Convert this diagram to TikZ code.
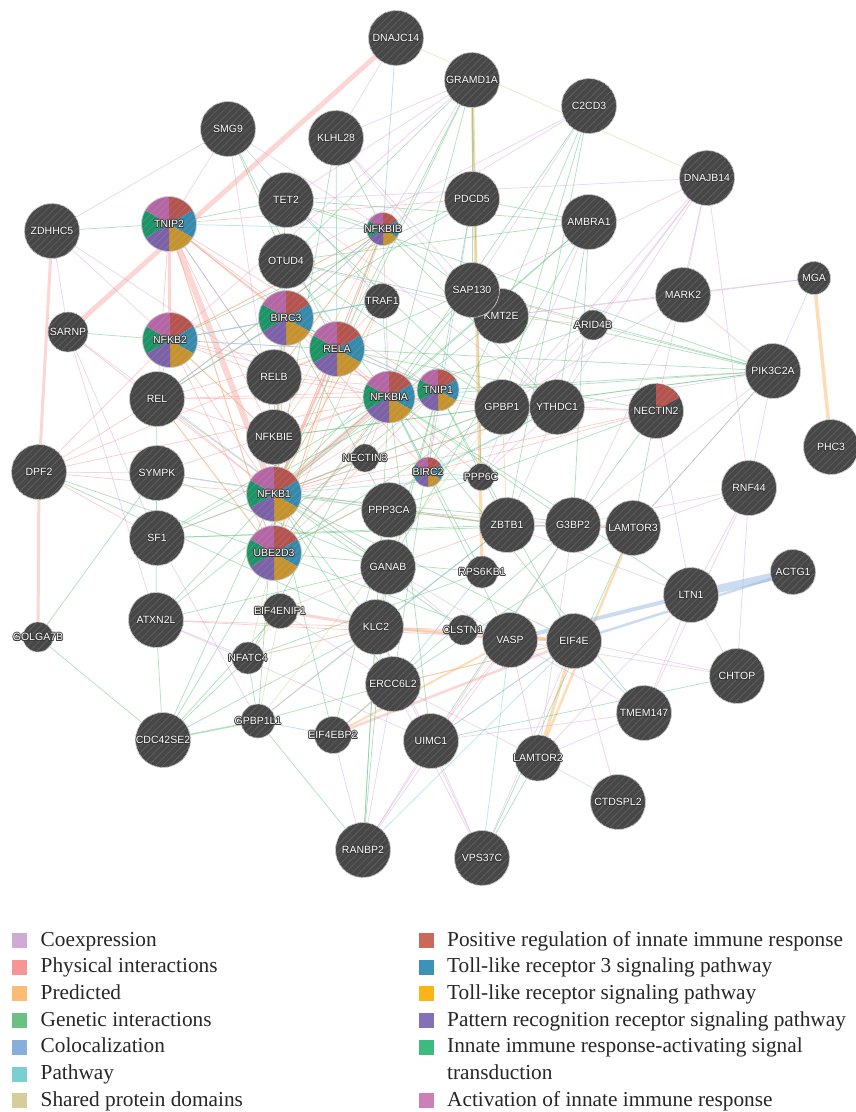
\documentclass[tikz,border=0pt]{standalone}
\usepackage{fontspec}
\setmainfont{Liberation Serif}
\newfontfamily\genefont{Liberation Sans}
\usetikzlibrary{positioning,patterns.meta}

\definecolor{nodegray}{HTML}{474747}
\definecolor{hatchgray}{HTML}{5E5E5E}
\definecolor{nodeedge}{HTML}{CACACA}
\definecolor{halo}{HTML}{383838}
% edge colours
\definecolor{eCoexp}{HTML}{D9ABDB}
\definecolor{ePhys}{HTML}{F79C9C}
\definecolor{ePred}{HTML}{FBB56A}
\definecolor{eGen}{HTML}{66C280}
\definecolor{eColoc}{HTML}{8CB2E0}
\definecolor{ePath}{HTML}{74D2D8}
\definecolor{eShared}{HTML}{D6CE92}
% legend colours
\definecolor{cCoexp}{HTML}{D0A9D5}
\definecolor{cPhys}{HTML}{F59595}
\definecolor{cPred}{HTML}{FBBC74}
\definecolor{cGen}{HTML}{6CC083}
\definecolor{cColoc}{HTML}{88AEDC}
\definecolor{cPath}{HTML}{7CCFD0}
\definecolor{cShared}{HTML}{D6CE9A}
\definecolor{lRed}{HTML}{C8695A}
\definecolor{lTeal}{HTML}{3D93B5}
\definecolor{lGold}{HTML}{FDB515}
\definecolor{lPurple}{HTML}{8470B5}
\definecolor{lGreen}{HTML}{3DBB7F}
\definecolor{lPink}{HTML}{CC80B8}
% pie slice colours
\definecolor{pRed}{HTML}{B3544F}
\definecolor{pTeal}{HTML}{3589AB}
\definecolor{pGold}{HTML}{C4922E}
\definecolor{pPurple}{HTML}{7B62A6}
\definecolor{pGreen}{HTML}{1C9466}
\definecolor{pPink}{HTML}{B366A3}

\pgfdeclarelayer{edges}
\pgfsetlayers{edges,main}

% gene label with a dark halo, zero width
\newcommand{\gsh}[3]{\raisebox{#2}{\makebox[0pt]{\hspace*{#1}#3\hspace*{-#1}}}}
\newcommand{\gl}[1]{{\color{halo}\gsh{.8pt}{0pt}{#1}\gsh{-.8pt}{0pt}{#1}\gsh{0pt}{.8pt}{#1}\gsh{0pt}{-.8pt}{#1}%
  \gsh{.6pt}{.6pt}{#1}\gsh{-.6pt}{.6pt}{#1}\gsh{.6pt}{-.6pt}{#1}\gsh{-.6pt}{-.6pt}{#1}}\gsh{0pt}{0pt}{#1}}

\tikzset{
  gene/.style={circle, draw=nodeedge, line width=0.7pt, fill=nodegray, inner sep=0pt,
               minimum size=#1, text=white, font=\genefont\fontsize{10.5}{12}\selectfont,
               postaction={pattern={Lines[angle=45,distance=5pt,line width=.8pt]}, pattern color=hatchgray}},
  gene/.default=55pt,
  piegene/.style={circle, draw=nodeedge, line width=0.7pt, inner sep=0pt,
               text=white, font=\genefont\fontsize{10.5}{12}\selectfont},
  hatch/.style={white, opacity=.1, line width=.8pt},
  edge/.style={line width=0.75pt, opacity=0.5},
  coexp/.style={edge, draw=eCoexp},
  phys/.style={edge, draw=ePhys},
  pred/.style={edge, draw=ePred},
  genetic/.style={edge, draw=eGen},
  coloc/.style={edge, draw=eColoc},
  pathw/.style={edge, draw=ePath},
  shared/.style={edge, draw=eShared},
  legbox/.style={rectangle, inner sep=0pt, minimum size=15pt},
  legtext/.style={inner sep=0pt, anchor=base west, font=\fontsize{21.3}{25}\selectfont, text=black!85},
}

% hatching lines inside a circle: position, radius in pt
\newcommand{\hatchcircle}[2]{%
  \begin{scope}
    \clip (#1) circle[radius=#2pt];
    \foreach \k in {-6,...,6}
      \draw[hatch] ([shift={(\k*3.54pt,-\k*3.54pt)}]#1) ++(-30pt,-30pt) -- ++(60pt,60pt);
  \end{scope}}

% pie node: name, position, radius in pt
\newcommand{\piegene}[3]{%
  \foreach \a/\c in {30/pRed,-30/pTeal,-90/pGold,-150/pPurple,150/pGreen,90/pPink}
    \fill[\c] (#2) -- ++(\a+60:#3pt) arc[start angle=\a+60, end angle=\a, radius=#3pt] -- cycle;
  \hatchcircle{#2}{#3}
  \node[piegene, minimum size=2*#3pt] (#1) at (#2) {\gl{#1}};
}

\begin{document}
\begin{tikzpicture}[x=1pt, y=-1pt]
  \useasboundingbox (0,0) rectangle (855,1112);

  % genes
  \node[gene] (DNAJC14) at (396,38) {\gl{DNAJC14}};
  \node[gene] (GRAMD1A) at (472,80) {\gl{GRAMD1A}};
  \node[gene] (C2CD3) at (589,106) {\gl{C2CD3}};
  \node[gene] (SMG9) at (228,129) {\gl{SMG9}};
  \node[gene] (KLHL28) at (336,138) {\gl{KLHL28}};
  \node[gene] (DNAJB14) at (707,178) {\gl{DNAJB14}};
  \node[gene] (TET2) at (286,200) {\gl{TET2}};
  \node[gene] (PDCD5) at (472,199) {\gl{PDCD5}};
  \node[gene] (AMBRA1) at (589,222) {\gl{AMBRA1}};
  \node[gene] (ZDHHC5) at (52,231) {\gl{ZDHHC5}};
  \node[gene] (OTUD4) at (286,261) {\gl{OTUD4}};
  \node[gene=35pt] (TRAF1) at (382,301) {\gl{TRAF1}};
  \node[gene] (KMT2E) at (501,316) {\gl{KMT2E}};
  \node[gene] (SAP130) at (472,290) {\gl{SAP130}};
  \node[gene] (MARK2) at (683,295) {\gl{MARK2}};
  \node[gene=33pt] (MGA) at (814,278) {\gl{MGA}};
  \node[gene=30pt] (ARID4B) at (593,325) {\gl{ARID4B}};
  \node[gene=40pt] (SARNP) at (68,332) {\gl{SARNP}};
  \node[gene] (PIK3C2A) at (773,371) {\gl{PIK3C2A}};
  \node[gene] (RELB) at (274,377) {\gl{RELB}};
  \node[gene] (REL) at (157,399) {\gl{REL}};
  \node[gene] (GPBP1) at (502,407) {\gl{GPBP1}};
  \node[gene] (YTHDC1) at (557,407) {\gl{YTHDC1}};
  \node[gene] (PHC3) at (831,447) {\gl{PHC3}};
  \node[gene] (NFKBIE) at (274,437) {\gl{NFKBIE}};
  \node[gene] (DPF2) at (39,472) {\gl{DPF2}};
  \node[gene] (SYMPK) at (157,473) {\gl{SYMPK}};
  \node[gene=28pt] (NECTIN3) at (365,458) {\gl{NECTIN3}};
  \node[gene=27pt] (PPP6C) at (481,477) {\gl{PPP6C}};
  \node[gene] (RNF44) at (749,488) {\gl{RNF44}};
  \node[gene] (PPP3CA) at (389,510) {\gl{PPP3CA}};
  \node[gene] (ZBTB1) at (507,525) {\gl{ZBTB1}};
  \node[gene] (G3BP2) at (573,525) {\gl{G3BP2}};
  \node[gene] (LAMTOR3) at (633,528) {\gl{LAMTOR3}};
  \node[gene] (SF1) at (157,538) {\gl{SF1}};
  \node[gene] (GANAB) at (388,567) {\gl{GANAB}};
  \node[gene=32pt] (RPS6KB1) at (482,572) {\gl{RPS6KB1}};
  \node[gene=45pt] (ACTG1) at (793,572) {\gl{ACTG1}};
  \node[gene] (LTN1) at (691,595) {\gl{LTN1}};
  \node[gene] (ATXN2L) at (156,620) {\gl{ATXN2L}};
  \node[gene=35pt] (EIF4ENIF1) at (280,611) {\gl{EIF4ENIF1}};
  \node[gene=30pt] (GOLGA7B) at (38,637) {\gl{GOLGA7B}};
  \node[gene] (KLC2) at (376,627) {\gl{KLC2}};
  \node[gene=30pt] (CLSTN1) at (463,630) {\gl{CLSTN1}};
  \node[gene] (VASP) at (510,640) {\gl{VASP}};
  \node[gene] (EIF4E) at (574,641) {\gl{EIF4E}};
  \node[gene=32pt] (NFATC4) at (248,658) {\gl{NFATC4}};
  \node[gene] (ERCC6L2) at (393,684) {\gl{ERCC6L2}};
  \node[gene] (CHTOP) at (737,676) {\gl{CHTOP}};
  \node[gene=34pt] (GPBP1L1) at (258,721) {\gl{GPBP1L1}};
  \node[gene=37pt] (EIF4EBP2) at (333,735) {\gl{EIF4EBP2}};
  \node[gene] (CDC42SE2) at (163,740) {\gl{CDC42SE2}};
  \node[gene] (TMEM147) at (644,713) {\gl{TMEM147}};
  \node[gene] (UIMC1) at (431,741) {\gl{UIMC1}};
  \node[gene=46pt] (LAMTOR2) at (538,758) {\gl{LAMTOR2}};
  \node[gene] (CTDSPL2) at (618,802) {\gl{CTDSPL2}};
  \node[gene] (RANBP2) at (363,850) {\gl{RANBP2}};
  \node[gene] (VPS37C) at (482,858) {\gl{VPS37C}};

  % genes in the innate immune functions
  \piegene{TNIP2}{169,224}{27.5}
  \piegene{NFKBIB}{383,229}{16.5}
  \piegene{BIRC3}{286,318}{27.5}
  \piegene{NFKB2}{170,340}{27.5}
  \piegene{RELA}{337,349}{27.5}
  \piegene{NFKBIA}{389,397}{26}
  \piegene{TNIP1}{438,390}{21}
  \piegene{BIRC2}{428,472}{15}
  \piegene{NFKB1}{274,494}{27.5}
  \piegene{UBE2D3}{274,553}{27.5}
  \node[gene] (NECTIN2) at (656,411) {};
  \fill[pRed] (656,411) -- ++(90:27.1pt) arc[start angle=90, end angle=30, radius=27.1pt] -- cycle;
  \begin{scope}
    \clip (656,411) -- ++(90:27.1pt) arc[start angle=90, end angle=30, radius=27.1pt] -- cycle;
    \foreach \k in {-6,...,6}
      \draw[hatch] ([shift={(\k*3.54pt,-\k*3.54pt)}]656,411) ++(-30pt,-30pt) -- ++(60pt,60pt);
  \end{scope}
  \node[piegene, draw=none] (NECTIN2t) at (NECTIN2) {\gl{NECTIN2}};

  \begin{pgfonlayer}{edges}
    % physical interactions
    \foreach \a/\b in {TNIP2/RELA, TNIP2/REL, TNIP2/NFKBIA, TNIP2/BIRC3, TNIP2/UBE2D3, TNIP2/RELB,
        TNIP2/TNIP1, TNIP2/NFKBIE, NFKB2/RELA, NFKB2/NFKBIA, NFKB2/RELB, NFKB2/BIRC3, NFKB2/NFKB1,
        NFKB2/NFKBIE, NFKB2/REL, NFKB2/NFKBIB, NFKB2/UBE2D3, NFKB2/TNIP1, REL/RELA, REL/NFKBIA,
        REL/NFKB1, REL/NFKBIB, REL/NFKBIE, REL/BIRC3, REL/UBE2D3, RELB/RELA, RELB/NFKBIA, RELB/NFKB1,
        RELB/NFKBIB, RELB/UBE2D3, BIRC3/RELA, BIRC3/TRAF1, BIRC3/NFKB1, BIRC3/UBE2D3, BIRC3/BIRC2,
        BIRC3/NFKBIB, BIRC3/TNIP1, BIRC3/NFKBIA, RELA/NFKBIA, RELA/NFKB1, RELA/NFKBIB, RELA/NFKBIE,
        RELA/TNIP1, RELA/TRAF1, RELA/UBE2D3, NFKBIA/NFKBIB, NFKBIA/TNIP1, NFKBIA/UBE2D3, NFKBIA/NFKBIE,
        NFKB1/NFKBIB, NFKB1/NFKBIE, NFKB1/UBE2D3, NFKB1/BIRC2, NFKB1/TRAF1, NFKB1/TNIP1, UBE2D3/BIRC2,
        UBE2D3/TNIP1, UBE2D3/TRAF1, TNIP1/BIRC2, NECTIN3/NFKBIA, NECTIN3/NFKB1, NECTIN2/NFKB1,
        NECTIN2/NFKBIA, NECTIN2/BIRC2, YTHDC1/NFKB1, GPBP1/NFKBIA, DPF2/NFKB1, DPF2/NFKBIA, DPF2/REL,
        DPF2/NFKB2, DPF2/RELA, SARNP/NFKB1, KLC2/CLSTN1, CLSTN1/VASP, EIF4E/ERCC6L2, KMT2E/ARID4B,
        SAP130/ARID4B, GANAB/ZBTB1, VASP/EIF4E, ATXN2L/KLC2, ATXN2L/EIF4E, PPP3CA/ZBTB1, PPP3CA/G3BP2,
        NFKBIA/PPP6C, TNIP2/PDCD5, NFKB1/GPBP1, EIF4EBP2/ERCC6L2, SYMPK/NFKBIA, SF1/NFKB1, DPF2/SF1,
        REL/TNIP1, ZBTB1/LAMTOR3, G3BP2/LAMTOR3, UIMC1/VASP, LAMTOR2/VASP, NFKB1/YTHDC1, RELB/TNIP1}
      \draw[phys] (\a) -- (\b);
    \foreach \a/\b/\w in {DNAJC14/SARNP/5, TNIP2/NFKB1/6, NFKBIA/NFKB1/5, TNIP2/NFKB2/3, ZDHHC5/DPF2/3,
        DPF2/GOLGA7B/3, EIF4ENIF1/KLC2/3, EIF4EBP2/EIF4E/2.5, KLC2/VASP/2, RELA/NFKB1/2.5}
      \draw[phys, line width=\w pt, opacity=.42] (\a) -- (\b);
    % predicted
    \foreach \a/\b in {NFKBIB/NFKB1, NFKBIB/RELB, NFKBIB/UBE2D3, NFKBIB/REL, NFKBIB/NFKB2, TNIP2/NFKBIA,
        TNIP2/UBE2D3, BIRC3/NFKBIE, REL/UBE2D3, NFKB2/NFKBIE, TRAF1/NFKB1, ERCC6L2/EIF4E, ZBTB1/LAMTOR3,
        KLC2/GANAB, NFATC4/EIF4ENIF1, GPBP1/ZBTB1, RELA/UBE2D3, NFKBIB/NFKBIE}
      \draw[pred] (\a) -- (\b);
    \foreach \a/\b/\w in {GRAMD1A/RPS6KB1/3.5, MGA/PHC3/3.5, EIF4E/LAMTOR2/3, LAMTOR3/LAMTOR2/2.5,
        KLC2/EIF4E/2.5, CLSTN1/EIF4E/2, EIF4EBP2/VASP/2}
      \draw[pred, line width=\w pt, opacity=.48] (\a) -- (\b);
    % genetic interactions
    \foreach \a/\b in {ZDHHC5/TNIP2, SARNP/NFKB2, SMG9/OTUD4, SMG9/RELA, KLHL28/NFKBIB, KLHL28/RELA,
        KLHL28/NFKB1, TET2/TNIP2, TET2/NFKBIB, TET2/GPBP1, TET2/AMBRA1, TET2/PIK3C2A, TET2/NFKB1,
        GRAMD1A/NFKBIA, GRAMD1A/RELA, GRAMD1A/PPP6C, GRAMD1A/SAP130, GRAMD1A/OTUD4, GRAMD1A/NFKB1,
        C2CD3/GPBP1, C2CD3/KMT2E, C2CD3/ZBTB1, C2CD3/NFKBIA, PDCD5/AMBRA1, PDCD5/NFKB2, PDCD5/REL,
        PDCD5/TNIP1, AMBRA1/NFKBIA, AMBRA1/YTHDC1, AMBRA1/GANAB, AMBRA1/G3BP2, AMBRA1/NFKB1,
        OTUD4/NFKBIA, OTUD4/PIK3C2A, OTUD4/GPBP1, OTUD4/AMBRA1, SAP130/NFKB1, SAP130/UBE2D3,
        SAP130/PIK3C2A, SAP130/RELA, KMT2E/NFKB1, KMT2E/BIRC2, KMT2E/NFKBIB, ARID4B/NFKBIA,
        ARID4B/PIK3C2A, PIK3C2A/TNIP1, PIK3C2A/GPBP1, PIK3C2A/NFKBIA, PIK3C2A/RELA, NECTIN2/PPP3CA,
        NECTIN2/RELA, YTHDC1/UBE2D3, YTHDC1/NFKBIB, GPBP1/SF1, GPBP1/UBE2D3, REL/ATXN2L, REL/GANAB,
        SYMPK/GANAB, SYMPK/ZBTB1, SF1/NFKBIA, SF1/ZBTB1, SF1/TNIP1, DPF2/KLC2, DPF2/UBE2D3,
        GOLGA7B/CDC42SE2, GOLGA7B/SYMPK, ATXN2L/CDC42SE2, ATXN2L/GANAB, ATXN2L/NFKB1, ATXN2L/TNIP1,
        CDC42SE2/NFATC4, CDC42SE2/UBE2D3, CDC42SE2/EIF4ENIF1, CDC42SE2/KLC2, CDC42SE2/NFKB1,
        NFATC4/GPBP1L1, NFATC4/RPS6KB1, NFATC4/NFKBIA, GPBP1L1/RANBP2, GPBP1L1/ERCC6L2, GPBP1L1/NFKB1,
        GPBP1L1/ZBTB1, EIF4EBP2/NFKB1, EIF4EBP2/PPP3CA, EIF4EBP2/G3BP2, RANBP2/GANAB, RANBP2/KLC2,
        RANBP2/NFKBIA, UIMC1/NFKBIA, UIMC1/G3BP2, ERCC6L2/NFKB1, ERCC6L2/TNIP1, ERCC6L2/LAMTOR3,
        KLC2/NFKB1, KLC2/TNIP1, GANAB/NFKB1, GANAB/TNIP1, PPP3CA/BIRC3, ZBTB1/NFKB1, ZBTB1/TNIP1,
        G3BP2/NFKBIA, G3BP2/SF1, LAMTOR3/NFKB1, LAMTOR3/PIK3C2A, LAMTOR3/NECTIN2, RPS6KB1/UBE2D3,
        RPS6KB1/NFKBIA, CLSTN1/NFKB1, VASP/NFKBIA, VASP/UBE2D3, EIF4E/TNIP1, EIF4E/NFKB1, CHTOP/UIMC1,
        VPS37C/LAMTOR3, LAMTOR2/VPS37C, TMEM147/NFKBIA, LTN1/NFKBIA, G3BP2/NECTIN2, NFKBIE/GPBP1,
        NFKBIE/PIK3C2A, OTUD4/NFKB1}
      \draw[genetic] (\a) -- (\b);
    \draw[genetic, line width=1.6pt] (CDC42SE2) -- (GPBP1L1);
    % coexpression
    \foreach \a/\b in {DNAJB14/MARK2, DNAJB14/GPBP1, DNAJB14/YTHDC1, DNAJB14/SAP130, DNAJB14/RNF44,
        DNAJB14/NECTIN2, DNAJB14/ARID4B, DNAJB14/TET2, C2CD3/OTUD4, C2CD3/NFKBIB, GRAMD1A/TET2,
        GRAMD1A/KLHL28, GRAMD1A/NFKB2, SMG9/ZDHHC5, SMG9/NFKBIB, SMG9/NFKBIE, ZDHHC5/NFKB2,
        ZDHHC5/SARNP, ZDHHC5/RELB, SARNP/SF1, SARNP/GANAB, MARK2/MGA, MARK2/GPBP1, MARK2/PIK3C2A,
        MARK2/KMT2E, MGA/PIK3C2A, MGA/KMT2E, PIK3C2A/RNF44, PIK3C2A/G3BP2, PIK3C2A/LAMTOR3,
        PIK3C2A/YTHDC1, NECTIN2/GPBP1, NECTIN2/LTN1, RNF44/LAMTOR3, RNF44/CHTOP, RNF44/LTN1,
        RNF44/TMEM147, LTN1/CHTOP, LTN1/TMEM147, LTN1/ZBTB1, CHTOP/EIF4E, TMEM147/UIMC1,
        TMEM147/LAMTOR2, TMEM147/VASP, CTDSPL2/LAMTOR2, CTDSPL2/EIF4E, VPS37C/UIMC1, VPS37C/ERCC6L2,
        VPS37C/EIF4E, VPS37C/KLC2, RANBP2/EIF4EBP2, RANBP2/UIMC1, RANBP2/ERCC6L2, RANBP2/VASP,
        RANBP2/G3BP2, UIMC1/EIF4E, UIMC1/KLC2, LAMTOR2/ERCC6L2, LAMTOR2/G3BP2, GPBP1L1/KLC2,
        NFATC4/KLC2, ATXN2L/NFATC4, ATXN2L/SARNP, ATXN2L/UIMC1, SF1/GPBP1L1, SYMPK/PPP3CA,
        KLHL28/YTHDC1, KLHL28/SAP130, TET2/YTHDC1, OTUD4/KMT2E, AMBRA1/PPP6C, ARID4B/GPBP1,
        ARID4B/ZBTB1, PPP6C/YTHDC1, GANAB/VASP, GANAB/CLSTN1, ZBTB1/G3BP2, EIF4ENIF1/GANAB,
        EIF4ENIF1/ERCC6L2, DPF2/SYMPK, SMG9/TNIP2, DNAJC14/KLHL28, GRAMD1A/NFKBIB, C2CD3/SAP130,
        DNAJB14/PPP6C, MARK2/G3BP2, RNF44/G3BP2, CHTOP/VASP, LTN1/LAMTOR2}
      \draw[coexp] (\a) -- (\b);
    % colocalization
    \foreach \a/\b in {DNAJC14/NFKBIB, EIF4E/TMEM147, GPBP1L1/EIF4EBP2, SMG9/TRAF1, PDCD5/BIRC2,
        KLC2/ZBTB1, ERCC6L2/RPS6KB1, TNIP2/RELB}
      \draw[coloc] (\a) -- (\b);
    \draw[coloc, line width=8pt, opacity=.45] (ACTG1) -- (LTN1);
    \draw[coloc, line width=4pt, opacity=.45] (LTN1) -- (VASP);
    \draw[coloc, line width=2.5pt, opacity=.45] (ACTG1) -- (EIF4E);
    % pathway
    \foreach \a/\b in {NFKBIB/BIRC3, NFKBIB/RELA, NFKBIB/TNIP2, TRAF1/BIRC3, TRAF1/NFKB2, TRAF1/NFKBIA,
        BIRC2/PPP6C, BIRC2/NFKBIA, BIRC2/GPBP1, RANBP2/EIF4E, UIMC1/EIF4E, NFKB2/RELA, REL/BIRC3,
        NFKB1/PPP6C, EIF4ENIF1/UBE2D3, VPS37C/VASP, BIRC3/TNIP1, RELA/TNIP1, YTHDC1/BIRC2, TNIP1/GPBP1,
        REL/NFKBIB, NFKB2/TRAF1}
      \draw[pathw] (\a) -- (\b);
    % shared protein domains
    \foreach \a/\b in {DNAJC14/DNAJB14, GPBP1/GPBP1L1, NFATC4/UBE2D3, EIF4ENIF1/GPBP1L1, NFATC4/KLC2}
      \draw[shared] (\a) -- (\b);
  \end{pgfonlayer}

  % legend
  \foreach \c/\t [count=\i from 0] in {cCoexp/Coexpression, cPhys/Physical interactions,
      cPred/Predicted, cGen/Genetic interactions, cColoc/Colocalization, cPath/Pathway,
      cShared/Shared protein domains} {
    \node[legbox, fill=\c] (lbox\i) at (19.5, 940.5+26.7*\i) {};
    \node[legtext] (ltext\i) at (40.5, 946+26.7*\i) {\t};
  }
  \foreach \c/\t/\r in {lRed/Positive regulation of innate immune response/0,
      lTeal/Toll-like receptor 3 signaling pathway/1, lGold/Toll-like receptor signaling pathway/2,
      lPurple/Pattern recognition receptor signaling pathway/3,
      lGreen/Innate immune response-activating signal/4, lPink/Activation of innate immune response/6} {
    \node[legbox, fill=\c] (rbox\r) at (426, 940.5+26.7*\r) {};
    \node[legtext] (rtext\r) at (447, 946+26.7*\r) {\t};
  }
  \node[legtext] (rtext5) at (447, 946+26.7*5) {transduction};
\end{tikzpicture}
\end{document}
